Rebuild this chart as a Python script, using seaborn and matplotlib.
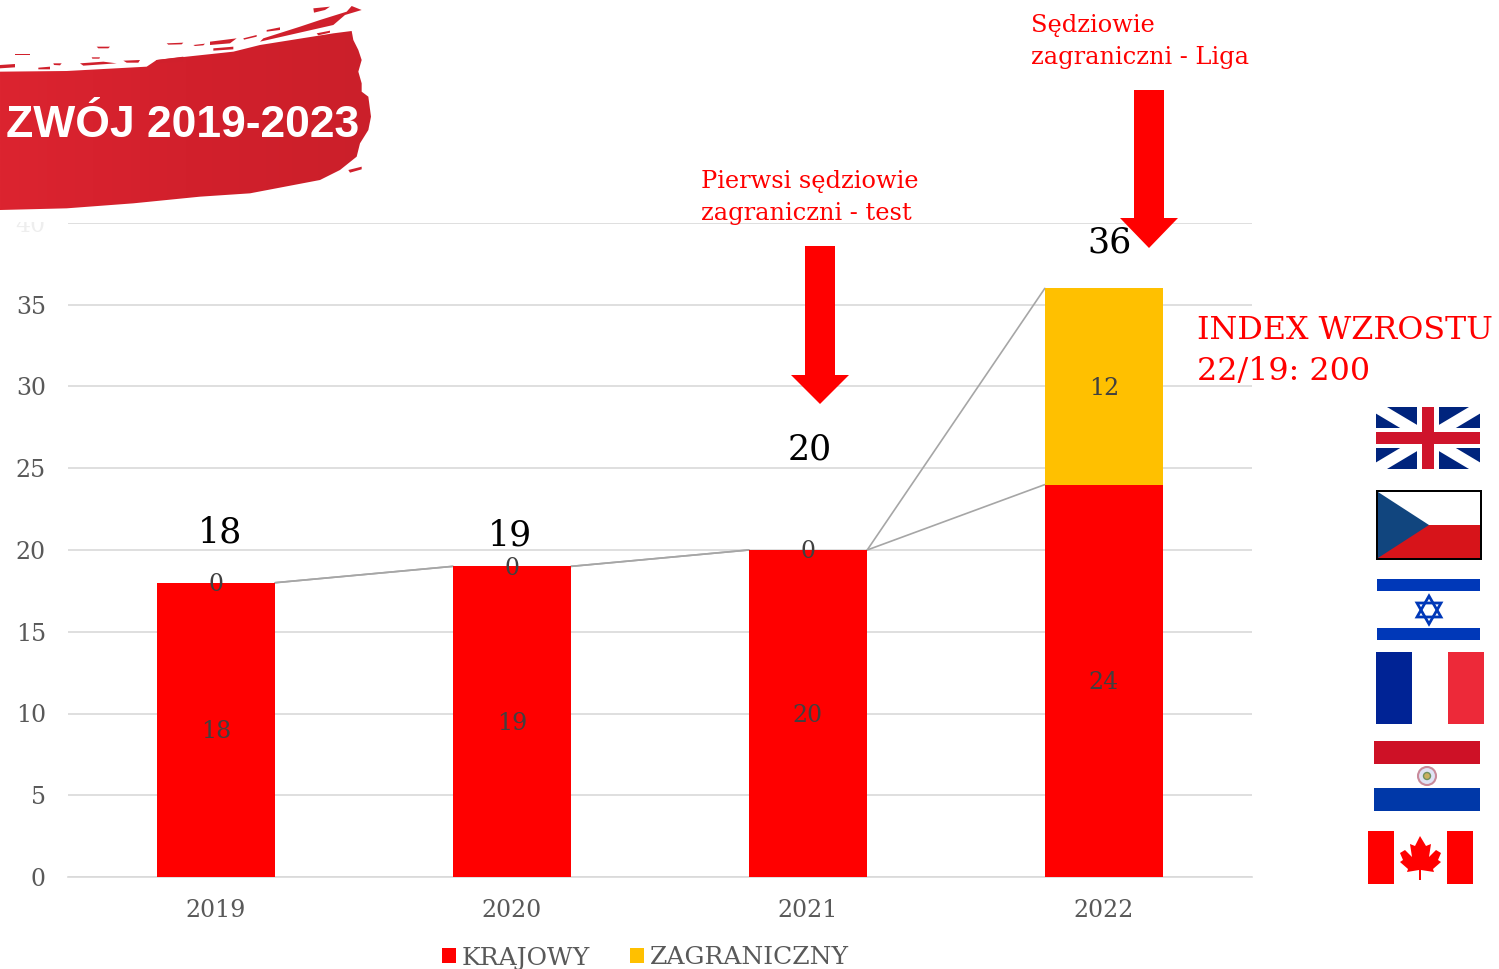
import matplotlib
matplotlib.use("Agg")
import matplotlib.pyplot as plt
import numpy as np
import seaborn as sns
from matplotlib.colors import LinearSegmentedColormap
from matplotlib.patches import Circle, Polygon, Rectangle

# --- Data ---
years = ["2019", "2020", "2021", "2022"]
krajowy = [18, 19, 20, 24]
zagraniczny = [0, 0, 0, 12]
totals = [18, 19, 20, 36]
y_ticks = [0, 5, 10, 15, 20, 25, 30, 35, 40]

RED = "#ff0000"
GOLD = "#ffc000"
GRID = "#d9d9d9"
GREY = "#595959"
DARK = "#404040"
BAR_W = 0.4

sns.set_theme(style="white")
plt.rcParams["font.family"] = ["DejaVu Serif"]

W, H = 1499, 969
fig = plt.figure(figsize=(W / 100, H / 100), dpi=100)
ax = fig.add_axes([68 / W, (H - 877) / H, 1184 / W, 654 / H])

# --- Stacked bars ---
sns.barplot(x=years, y=krajowy, color=RED, saturation=1, width=BAR_W,
            label="KRAJOWY", ax=ax, zorder=3, linewidth=0)
sns.barplot(x=years, y=zagraniczny, bottom=krajowy, color=GOLD, saturation=1,
            width=BAR_W, label="ZAGRANICZNY", ax=ax, zorder=3, linewidth=0)

ax.set_xlim(-0.5, 3.5)
ax.set_ylim(0, 40)
ax.set_yticks(y_ticks)
ax.yaxis.grid(True, color=GRID, lw=1.2, zorder=0)
ax.set_axisbelow(True)
sns.despine(ax=ax, left=True)
ax.spines["bottom"].set_color(GRID)
ax.spines["bottom"].set_linewidth(1.2)
ax.tick_params(axis="both", length=0, labelsize=17, labelcolor=GREY)
ax.tick_params(axis="x", pad=15.7)
ax.tick_params(axis="y", pad=16)
ax.get_yticklabels()[-1].set_color("#eeeeee")

# --- Series lines between the bars ---
for i in range(len(years) - 1):
    ax.plot([i + BAR_W / 2, i + 1 - BAR_W / 2], [krajowy[i], krajowy[i + 1]],
            color="#a6a6a6", lw=1.2, zorder=2)
    ax.plot([i + BAR_W / 2, i + 1 - BAR_W / 2], [totals[i], totals[i + 1]],
            color="#a6a6a6", lw=1.2, zorder=2)

# --- Value labels ---
for i, year in enumerate(years):
    ax.annotate(str(krajowy[i]), (i, krajowy[i] / 2), xytext=(0, -2), textcoords="offset pixels",
                ha="center", va="center", fontsize=17, color=DARK, zorder=5)
    ax.annotate(str(zagraniczny[i]), (i, krajowy[i] + zagraniczny[i] / 2), xytext=(0, -2),
                textcoords="offset pixels", ha="center", va="center", fontsize=17,
                color=DARK, zorder=5)

total_offset = [(4, 50), (-2, 31), (2, 100), (6, 46)]
for i, off in enumerate(total_offset):
    ax.annotate(str(totals[i]), (i, totals[i]), xytext=off, textcoords="offset pixels",
                ha="center", va="center", fontsize=25, color="black", zorder=6)

leg = ax.legend(loc="center left", bbox_to_anchor=(442 / W, (H - 958) / H),
                bbox_transform=fig.transFigure, ncol=2, frameon=False, fontsize=18,
                handlelength=0.56, handleheight=0.56, handletextpad=0.24,
                columnspacing=1.6, labelcolor=GREY, borderpad=0, borderaxespad=0)

# --- Overlay in picture pixels for brush, arrows, flags ---
ov = fig.add_axes([0, 0, 1, 1], zorder=10)
ov.set_xlim(0, W)
ov.set_ylim(H, 0)
ov.axis("off")
ov.patch.set_alpha(0)


def poly(pts, color, **kw):
    ov.add_patch(Polygon(pts, closed=True, facecolor=color, edgecolor="none", **kw))


def rect(x, y, w, h, color, **kw):
    ov.add_patch(Rectangle((x, y), w, h, facecolor=color, edgecolor="none", **kw))


# brush stroke, outlines traced in the 3x zoom of the reference
BRUSH = "#d0202c"


def brush(pts, color=BRUSH):
    poly([(x / 3, y / 3) for x, y in pts], color)


rect(0, 211, 68, 11, "white")
body = Polygon([(x / 3, y / 3) for x, y in [
    (0, 215), (200, 213), (440, 200), (470, 180), (560, 170), (700, 155), (780, 135),
    (1000, 100), (1055, 93), (1060, 120), (1075, 150), (1085, 180), (1075, 215),
    (1085, 250), (1085, 275), (1105, 290), (1113, 350), (1105, 390), (1080, 430),
    (1070, 470), (1020, 510), (960, 540), (750, 580), (600, 590), (400, 610),
    (200, 625), (0, 630)]], closed=True, facecolor="none", edgecolor="none")
ov.add_patch(body)
brush_cmap = LinearSegmentedColormap.from_list("brush", ["#dc2430", "#d2202c", "#cb1f2a"])
im = ov.imshow(np.linspace(0, 1, 256)[None, :], extent=(0, 372, 215, 25), cmap=brush_cmap,
               aspect="auto")
im.set_clip_path(body)
ov.set_xlim(0, W)
ov.set_ylim(H, 0)
brush([(780, 125), (1000, 75), (1035, 45), (1085, 30), (1055, 18), (1040, 35), (960, 60),
       (900, 80), (790, 115)])
brush([(940, 25), (990, 20), (975, 30), (942, 38)])
brush([(630, 125), (710, 115), (690, 130), (630, 135)])
brush([(500, 130), (550, 128), (545, 133), (505, 134)])
brush([(580, 135), (615, 131), (610, 136), (585, 138)])
brush([(470, 180), (550, 170), (550, 185), (460, 190)])
brush([(370, 182), (420, 180), (415, 188), (380, 188)])
brush([(240, 190), (310, 185), (350, 190), (250, 197)])
brush([(0, 195), (45, 192), (45, 202), (0, 205)])
brush([(115, 203), (150, 200), (150, 208), (115, 208)])
brush([(160, 190), (185, 190), (180, 196), (162, 195)])
brush([(45, 162), (90, 162), (90, 166), (45, 166)])
brush([(290, 140), (330, 140), (325, 145), (295, 145)])
brush([(275, 172), (300, 172), (298, 176), (277, 176)])
brush([(730, 115), (770, 105), (770, 110), (732, 119)])
brush([(800, 90), (840, 82), (840, 90), (800, 95)])
brush([(640, 145), (700, 140), (700, 148), (640, 152)])
brush([(950, 100), (990, 92), (990, 98), (955, 106)])
brush([(1045, 510), (1085, 500), (1085, 508), (1050, 518)])
ov.text(359, 125, "ZWÓJ 2019-2023", ha="right", va="center", fontsize=32,
        family="Liberation Sans", fontweight="bold", color="white")

# arrows
for ax_x, top, neck, tip in [(820, 246, 375, 404), (1149, 90, 218, 248)]:
    poly([(ax_x - 15, top), (ax_x + 15, top), (ax_x + 15, neck), (ax_x + 29, neck),
          (ax_x, tip), (ax_x - 29, neck), (ax_x - 15, neck)], RED)

# notes
ov.text(701, 197.5, "Pierwsi sędziowie\nzagraniczni - test", fontsize=17.4, color=RED,
        ha="left", va="center", linespacing=1.47)
ov.text(1031, 41.5, "Sędziowie\nzagraniczni - Liga", fontsize=17.4, color=RED,
        ha="left", va="center", linespacing=1.47)
ov.text(1197, 351, "INDEX WZROSTU\n22/19: 200", fontsize=22.9, color=RED,
        ha="left", va="center", linespacing=1.43)

# UK flag
NAVY = "#00247d"
UKR = "#cf142b"
x0, y0, x1, y1 = 1376, 407, 1480, 469
d = 11
rect(x0, y0, x1 - x0, y1 - y0, NAVY)
poly([(x0, y0), (x0 + d, y0), (x1, y1 - d * 0.6), (x1, y1), (x1 - d, y1), (x0, y0 + d * 0.6)], "white")
poly([(x1, y0), (x1 - d, y0), (x0, y1 - d * 0.6), (x0, y1), (x0 + d, y1), (x1, y0 + d * 0.6)], "white")
rect(x0, 428, x1 - x0, 20, "white")
rect(1417, y0, 22, y1 - y0, "white")
rect(x0, 432, x1 - x0, 12, UKR)
rect(1422, y0, 12, y1 - y0, UKR)

# Czech flag
rect(1376, 490, 106, 70, "black")
rect(1378, 492, 102, 33, "white")
rect(1378, 525, 102, 33, "#d7141a")
poly([(1378, 492), (1429, 525), (1378, 558)], "#11457e")

# Israel flag
ISR = "#0038b8"
rect(1377, 579, 103, 12, ISR)
rect(1377, 628, 103, 12, ISR)
ov.add_patch(Polygon([(1429, 596), (1441, 617), (1417, 617)], closed=True, fill=False,
                     edgecolor=ISR, lw=2))
ov.add_patch(Polygon([(1429, 624), (1441, 603), (1417, 603)], closed=True, fill=False,
                     edgecolor=ISR, lw=2))

# France flag
rect(1376, 652, 36, 72, "#002395")
rect(1448, 652, 36, 72, "#ed2939")

# Paraguay flag
rect(1374, 741, 106, 23, "#ce1126")
rect(1374, 788, 106, 23, "#0038a8")
ov.add_patch(Circle((1427, 776), 9, facecolor="#dfe3f5", edgecolor="#c98a9a", lw=1.5))
ov.add_patch(Circle((1427, 776), 3.5, facecolor="#c9b060", edgecolor="#6f9060", lw=1))

# Canada flag
rect(1368, 831, 26, 53, RED)
rect(1447, 831, 26, 53, RED)
poly([(1420, 836), (1426, 846), (1431, 844), (1429, 857), (1436, 850), (1441, 853),
      (1438, 860), (1441, 862), (1433, 869), (1434, 872), (1421, 870), (1421, 880),
      (1419, 880), (1419, 870), (1407, 872), (1408, 869), (1400, 862), (1403, 860),
      (1400, 853), (1405, 850), (1412, 857), (1410, 844), (1415, 846)], RED)

fig.savefig("out.png", dpi=100)
